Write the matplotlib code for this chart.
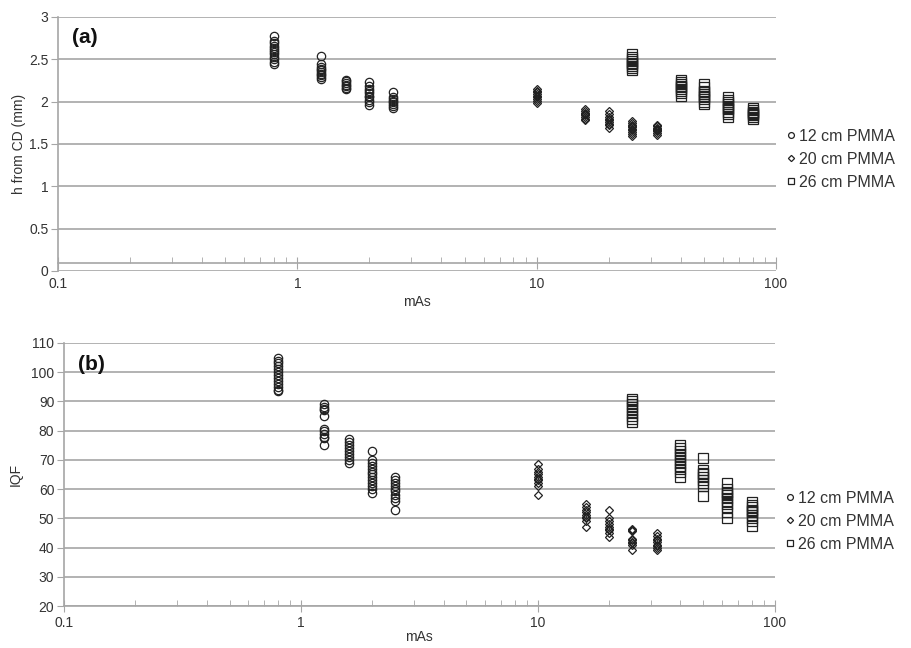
import matplotlib
matplotlib.use("Agg")
import matplotlib.pyplot as plt
from matplotlib.ticker import FixedLocator, FuncFormatter, LogLocator, NullFormatter

plt.rcParams['font.family'] = ['Liberation Sans', 'DejaVu Sans']

# ---------------- data ----------------
# (a) h from CD (mm)
h12_mas = [0.8, 1.25, 1.6, 2.0, 2.5]
h12_vals = [
    [2.78, 2.72, 2.69, 2.66, 2.63, 2.61, 2.59, 2.56, 2.53, 2.50, 2.47, 2.45],
    [2.54, 2.44, 2.41, 2.39, 2.37, 2.35, 2.33, 2.31, 2.29, 2.27],
    [2.26, 2.24, 2.22, 2.20, 2.18, 2.16, 2.15],
    [2.23, 2.18, 2.15, 2.12, 2.10, 2.07, 2.05, 2.02, 1.99, 1.96],
    [2.11, 2.06, 2.03, 2.01, 1.99, 1.97, 1.95, 1.92],
]
h20_mas = [10, 16, 20, 25, 32]
h20_vals = [
    [2.15, 2.13, 2.11, 2.09, 2.07, 2.05, 2.03, 2.01, 1.98],
    [1.91, 1.89, 1.87, 1.86, 1.85, 1.84, 1.82, 1.80, 1.78],
    [1.89, 1.86, 1.82, 1.80, 1.78, 1.76, 1.74, 1.72, 1.69],
    [1.77, 1.75, 1.73, 1.71, 1.70, 1.68, 1.66, 1.64, 1.62, 1.60],
    [1.73, 1.71, 1.69, 1.68, 1.67, 1.66, 1.65, 1.63, 1.61],
]
h26_mas = [25, 40, 50, 63, 80]
h26_vals = [
    [2.56, 2.53, 2.50, 2.48, 2.46, 2.44, 2.42, 2.40, 2.37],
    [2.26, 2.23, 2.21, 2.19, 2.17, 2.15, 2.13, 2.10, 2.07],
    [2.21, 2.17, 2.13, 2.11, 2.09, 2.07, 2.05, 2.03, 2.00, 1.97],
    [2.06, 2.02, 1.99, 1.97, 1.95, 1.93, 1.91, 1.88, 1.85, 1.82],
    [1.92, 1.90, 1.88, 1.87, 1.86, 1.84, 1.82, 1.79],
]

# (b) IQF
q12_mas = [0.8, 1.25, 1.6, 2.0, 2.5]
q12_vals = [
    [105, 104, 103, 102, 101, 100, 99, 98, 97, 96, 95, 94, 93.5],
    [89, 88, 87.5, 87, 85, 80.5, 80, 79, 78, 77.5, 75],
    [77, 76, 75, 74, 73, 72, 71, 70, 69],
    [73, 70, 69, 68, 67, 66, 65, 64, 63, 62, 61, 60, 58.5],
    [64, 63, 62, 61, 60, 59.5, 58, 57, 56, 53],
]
q20_mas = [10, 16, 20, 25, 32]
q20_vals = [
    [68.5, 67, 66, 65, 64, 63.5, 63, 62, 61, 58],
    [55, 54, 53, 52, 51, 50.5, 50, 49, 47],
    [53, 50, 49, 48, 47, 46.5, 46, 45, 43.5],
    [46.5, 46, 45.5, 43, 42.5, 42, 41.5, 41, 39],
    [45, 44, 43, 42.5, 42, 41, 40.5, 40, 39],
]
q26_mas = [25, 40, 50, 63, 80]
q26_vals = [
    [91, 90, 89, 88, 87, 86, 85, 84, 83],
    [75, 74, 73, 72, 71, 70, 69, 68, 67, 66, 64],
    [70.5, 66.5, 65.5, 65, 64, 63, 62, 61, 57.5],
    [62, 60, 59, 58.5, 58, 57, 56, 55, 54, 52, 50],
    [55.5, 54.5, 54, 53, 52.5, 52, 51, 50, 49, 47.5],
]

series_labels = ["12 cm PMMA", "20 cm PMMA", "26 cm PMMA"]
x_ticks = [0.1, 1, 10, 100]
x_tick_labels = ["0.1", "1", "10", "100"]

GRID = "#a6a6a6"
TXT = "#333333"


def flatten(mas, vals):
    xs, ys = [], []
    for m, v in zip(mas, vals):
        xs += [m] * len(v)
        ys += v
    return xs, ys


def style_axes(ax, ylim, yticks, ylabel, panel, spine_y=None, ylabelpad=6, xpad=3, xlabelpad=0):
    ax.set_xscale('log')
    ax.set_xlim(0.1, 100)
    ax.set_ylim(*ylim)
    ax.set_yticks(yticks)
    ax.yaxis.set_major_formatter(FuncFormatter(lambda v, p: ('%g' % v)))
    ax.xaxis.set_major_locator(FixedLocator(x_ticks))
    ax.xaxis.set_major_formatter(FuncFormatter(lambda v, p: x_tick_labels[x_ticks.index(v)] if v in x_ticks else ''))
    ax.xaxis.set_minor_locator(LogLocator(base=10, subs=range(2, 10)))
    ax.xaxis.set_minor_formatter(NullFormatter())
    for s in ['top', 'right']:
        ax.spines[s].set_visible(False)
    for s in ['left', 'bottom']:
        ax.spines[s].set_color(GRID)
        ax.spines[s].set_linewidth(1.2)
    if spine_y is not None:
        ax.spines['bottom'].set_position(('data', spine_y))
    ax.grid(axis='y', color=GRID, linewidth=1.2)
    ax.set_axisbelow(True)
    ax.tick_params(axis='y', direction='out', length=5, color=GRID, labelsize=10, labelcolor=TXT, pad=2)
    ax.tick_params(axis='x', which='major', direction='inout', length=8, color=GRID, labelsize=10, labelcolor=TXT, pad=xpad)
    ax.tick_params(axis='x', which='minor', direction='in', length=4, color=GRID)
    ax.set_xlabel('mAs', fontsize=10, color=TXT, labelpad=xlabelpad)
    ax.set_ylabel(ylabel, fontsize=10, color=TXT, labelpad=ylabelpad)
    ax.text(0.02, 0.955, panel, transform=ax.transAxes, fontsize=15, fontweight='bold', va='top', ha='left', color='#111111')


def draw(ax, groups, leg_y):
    markers = ['o', 'D', 's']
    sizes = [6, 4.5, 7]
    for (mas, vals), mk, ms, lab in zip(groups, markers, sizes, series_labels):
        xs, ys = flatten(mas, vals)
        ax.plot(xs, ys, linestyle='none', marker=mk, markersize=ms, markerfacecolor='none',
                markeredgecolor='#222222', markeredgewidth=0.9, label=lab)
    leg = ax.legend(loc='center left', bbox_to_anchor=(0.99, leg_y), frameon=False, fontsize=11.5,
                    handletextpad=0.0, handlelength=1.0, labelspacing=0.5, markerscale=0.7)
    for t in leg.get_texts():
        t.set_color(TXT)


fig = plt.figure(figsize=(9.11, 6.48), dpi=100)
ax1 = fig.add_axes([0.0637, 0.5818, 0.788, 0.392])
ax2 = fig.add_axes([0.0703, 0.0648, 0.780, 0.4059])

draw(ax1, [(h12_mas, h12_vals), (h20_mas, h20_vals), (h26_mas, h26_vals)], 0.44)
style_axes(ax1, (0, 3), [0, 0.5, 1, 1.5, 2, 2.5, 3], 'h from CD (mm)', '(a)', spine_y=0.09,
           ylabelpad=2, xpad=6, xlabelpad=3)

draw(ax2, [(q12_mas, q12_vals), (q20_mas, q20_vals), (q26_mas, q26_vals)], 0.323)
style_axes(ax2, (20, 110), list(range(20, 111, 10)), 'IQF', '(b)', ylabelpad=6, xpad=3, xlabelpad=0)

fig.savefig('out.png', dpi=100)
